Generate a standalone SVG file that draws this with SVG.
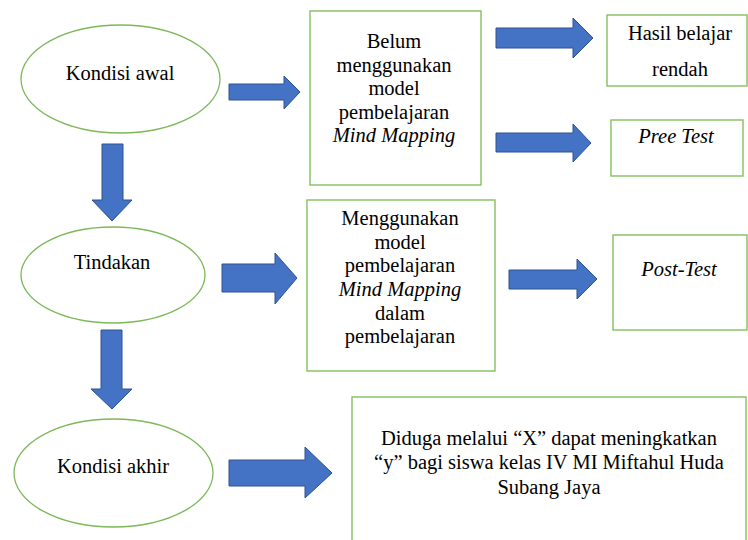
<svg xmlns="http://www.w3.org/2000/svg" width="748" height="540" viewBox="0 0 748 540">
<style>
.ell{fill:#fff;stroke:#7DB95A;stroke-width:1.3}
.box{fill:#fff;stroke:#82C060;stroke-width:1.4}
.arr{fill:#4472C4;stroke:#2F528F;stroke-width:1}
.t{font-family:'Liberation Serif','Times New Roman',Tinos,'DejaVu Serif',serif;font-size:20.5px;fill:#000;text-anchor:middle}
.it{font-style:italic}
</style>
<rect width="748" height="540" fill="#fff"/>
<g id="connectors">
<polygon class="arr" points="229,84 284,84 284,76 300,92 284,109 284,100 229,100"/>
<polygon class="arr" points="496,28 573,28 573,18 593,38 573,58 573,48 496,48"/>
<polygon class="arr" points="496,133 573,133 573,124 591,143 573,162 573,152 496,152"/>
<polygon class="arr" points="222,264 275,264 275,253 297,278 275,304 275,292 222,292"/>
<polygon class="arr" points="509,270 577,270 577,259 597,279 577,299 577,289 509,289"/>
<polygon class="arr" points="229,460 305,460 305,447 332,473 305,498 305,486 229,486"/>
<polygon class="arr" points="102,144 123,144 123,200 132,200 112,221 92,200 102,200"/>
<polygon class="arr" points="101,330 122,330 122,389 132,389 112,409 91,389 101,389"/>
</g>
<g id="kondisi-awal">
<ellipse class="ell" cx="120.5" cy="79" rx="99.5" ry="54"/>
<text class="t" x="120" y="80">Kondisi awal</text>
</g>
<g id="tindakan">
<ellipse class="ell" cx="113" cy="275" rx="92" ry="48"/>
<text class="t" x="112" y="269">Tindakan</text>
</g>
<g id="kondisi-akhir">
<ellipse class="ell" cx="113.5" cy="473" rx="99.5" ry="54"/>
<text class="t" x="113" y="473">Kondisi akhir</text>
</g>
<g id="belum">
<rect class="box" x="310" y="11" width="171" height="174"/>
<text class="t" x="394" y="48">Belum</text>
<text class="t" x="394" y="71.5">menggunakan</text>
<text class="t" x="394" y="95">model</text>
<text class="t" x="394" y="118.5">pembelajaran</text>
<text class="t it" x="394" y="142">Mind Mapping</text>
</g>
<g id="hasil">
<rect class="box" x="607" y="15" width="140" height="71"/>
<text class="t" x="680" y="40">Hasil belajar</text>
<text class="t" x="680" y="76">rendah</text>
</g>
<g id="pree-test">
<rect class="box" x="611" y="120" width="132" height="56"/>
<text class="t it" x="676" y="143">Pree Test</text>
</g>
<g id="menggunakan">
<rect class="box" x="307" y="200" width="188" height="171"/>
<text class="t" x="400" y="225">Menggunakan</text>
<text class="t" x="400" y="249">model</text>
<text class="t" x="400" y="272">pembelajaran</text>
<text class="t it" x="400" y="296">Mind Mapping</text>
<text class="t" x="400" y="320">dalam</text>
<text class="t" x="400" y="343">pembelajaran</text>
</g>
<g id="post-test">
<rect class="box" x="613" y="235" width="134" height="95"/>
<text class="t it" x="679" y="276">Post-Test</text>
</g>
<g id="hipotesis">
<rect class="box" x="352" y="397" width="394" height="160"/>
<text class="t" x="549" y="445">Diduga melalui “X” dapat meningkatkan</text>
<text class="t" x="549" y="469">“y” bagi siswa kelas IV MI Miftahul Huda</text>
<text class="t" x="549" y="494">Subang Jaya</text>
</g>
</svg>
